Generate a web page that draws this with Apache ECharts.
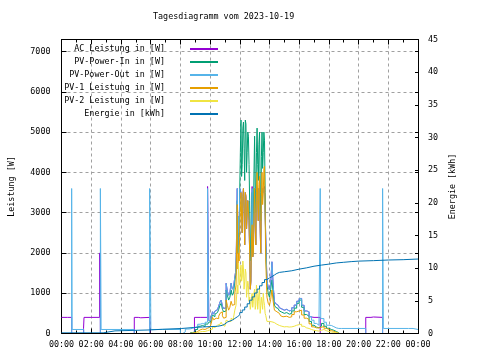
<!DOCTYPE html>
<html>
<head>
<meta charset="utf-8">
<script src="https://cdn.jsdelivr.net/npm/echarts@6/dist/echarts.min.js"></script>
<style>html,body{margin:0;padding:0;background:#fff}#c{width:480px;height:360px}</style>
</head>
<body>
<div id="c"></div>
<script>
// ---------- data (time in minutes of the day) ----------
const seriesNames = ['AC Leistung in [W]','PV-Power-In in [W]','PV-Power-Out in [W]','PV-1 Leistung in [W]','PV-2 Leistung in [W]','Energie in [kWh]'];
const xTickLabels = ['00:00','02:00','04:00','06:00','08:00','10:00','12:00','14:00','16:00','18:00','20:00','22:00','00:00'];

const dayMin = [
 480,490,500,510,520,530,540,550,560,570,580,
 585,590,595,600,605,610,615,620,625,630,635,640,645,650,655,660,665,670,675,680,685,690,695,700,705,
 710,712.5,715,717.5,720,722.5,725,727.5,730,732.5,735,737.5,740,742.5,745,747.5,750,752.5,755,757.5,760,762.5,765,767.5,770,772.5,775,777.5,780,782.5,785,787.5,790,792.5,795,797.5,800,802.5,805,807.5,810,812.5,815,817.5,820,822.5,825,
 830,835,840,845,850,855,860,865,870,875,880,885,890,895,900,
 910,920,930,940,950,960,970,980,990,1000,1010,1020,1030,1040,1050,1060,1070,1080,1090,1100,1110,1120];

const pvIn = [
 null,null,null,null,20,50,100,180,200,170,240,
 230,260,280,300,380,455,420,480,520,505,600,700,750,600,540,560,1080,950,830,900,1080,950,1000,1300,1500,
 3300,2000,2800,2400,3600,4500,5300,3900,4200,5100,5250,4600,3800,5300,5200,4000,4500,5000,4900,4200,3300,1800,2200,3200,3500,2500,2700,4000,4900,3600,3000,4500,5100,4200,3800,4700,5000,3500,2800,4400,5000,4100,4500,5000,4800,3500,2200,
 1200,1000,900,1100,1330,1000,705,650,620,600,560,530,500,500,520,
 480,500,560,630,750,830,650,470,430,300,205,160,140,180,250,180,130,100,80,50,20,0];

const pvOut = [
 0,40,110,115,130,150,170,230,250,230,280,
 280,3600,320,330,420,540,480,560,590,580,680,780,830,680,620,640,1245,1050,950,1000,1250,1100,1150,1400,1600,
 3600,2200,2900,2500,3600,3600,3500,3300,2500,3400,3600,3100,2200,3500,3400,2600,3000,3300,3300,2800,2000,1100,1300,2400,3600,1900,2000,3000,3600,2700,2200,3500,3600,3300,2800,3600,3600,2600,2000,3400,3600,3600,3500,3600,3600,3000,2300,
 1300,1150,1080,1250,1780,1200,790,740,705,680,640,610,580,580,600,
 560,580,640,705,800,870,700,560,540,420,330,250,205,280,370,280,205,200,170,140,125,125];

const pv1 = [
 null,null,null,null,10,20,50,90,110,100,140,
 130,150,160,170,250,400,340,380,380,370,430,500,540,440,380,400,830,700,580,650,800,700,720,1000,1200,
 3200,1600,2000,1800,2600,3000,3500,2900,2500,3400,3600,3100,2200,3500,3400,2600,3000,3300,3300,2800,2000,1100,1300,2400,2700,1900,2000,3000,3600,2700,2200,3500,4000,3300,2800,3700,3900,2600,2000,3400,4000,3200,3500,4100,4150,3000,1800,
 900,750,700,850,1080,800,580,540,530,500,470,440,415,415,430,
 400,415,470,540,560,580,460,380,350,240,165,140,140,150,180,130,100,70,55,30,10,0];

const pv2 = [
 null,null,null,null,null,10,20,40,50,50,70,
 70,80,90,90,110,165,150,190,205,200,230,260,280,220,180,190,330,300,280,300,380,340,400,580,700,
 1200,1000,1750,1300,1200,1500,1700,1300,1400,1800,1600,1100,1300,1600,1500,900,1100,1300,1200,800,900,600,700,900,1000,650,800,1000,1100,600,700,1200,1000,600,800,1000,1100,500,700,900,900,600,1000,800,700,500,450,
 300,300,280,290,290,270,250,230,205,200,190,180,165,165,170,
 160,165,180,205,220,230,180,140,125,100,80,70,60,80,100,70,50,35,25,15,5,0];

const acDay = [
 null,null,null,null,null,null,null,null,null,null,null,
 null,null,320,330,420,540,480,560,590,580,680,780,830,680,620,640,1245,1050,950,1000,1250,1100,1150,1400,1600,
 3600,2200,2900,2500,3600,3600,3500,3300,2500,3400,3600,3100,2200,3500,3400,2600,3000,3300,3300,2800,2000,1100,1300,2400,3650,1900,2000,3000,3600,2700,2200,3500,3600,3300,2800,3600,3600,2600,2000,3400,3600,3600,3500,3600,3650,3000,2380,
 1300,1150,1080,1250,1780,1200,790,740,705,680,640,610,580,580,600,
 560,580,640,705,800,870,700,560,540,420,null,null,null,null,null,null,null,null,null,null,null,null];

// night parts and short spikes: [minute, W]
const acNight = [[0,400],[25,380],[30,400],[41,0],[89,130],[91,400],[120,390],[124,400],[154,2000],[156,1800],[157,0],
 [294,400],[310,390],[320,400],[357,0],[537,400],[560,390],[565,400],[590,3650],
 [1005,400],[1020,390],[1025,400],[1045,0],[1229,400],[1250,410],[1260,400],[1297,0],[1440,0]];
const pvOutNight = [[0,0],[41,3600],[43,100],[90,0],[157,3600],[160,100],[294,0],[356,3600],[359,1840],[361,100],
 [1045,3600],[1047,370],
 [1130,125],[1229,0],[1297,3600],[1300,125],[1402,100],[1410,125],[1420,100],[1440,100]];

const energyMin = [0,168,216,360,408,486,534,570,600,630,650,660,670,680,690,700,710,720,730,740,750,760,770,780,790,800,810,820,830,840,850,860,870,880,900,930,960,990,1020,1050,1080,1110,1140,1170,1200,1260,1320,1380,1440];
const energyKWh = [0.1,0.4,0.55,0.65,0.77,0.92,1.0,1.05,1.1,1.25,1.45,1.75,1.9,2.05,2.3,2.55,2.85,3.2,3.6,4.05,4.55,5.1,5.6,6.2,6.8,7.3,7.8,8.25,8.5,8.7,8.95,9.2,9.35,9.45,9.6,9.85,10.05,10.3,10.47,10.62,10.8,10.9,11.0,11.08,11.15,11.25,11.3,11.4,11.5];

// ---------- build ----------
function pairs(times, vals){ const out=[]; for(let i=0;i<times.length;i++){ if(vals[i]!=null) out.push([times[i], vals[i]]); } return out; }
function merged(a, b){ return a.concat(b).sort((p,q)=>p[0]-q[0]); }

const FONT = "'DejaVu Sans Mono', monospace";
const FS = 8.4;
const colors = ['#9400d3','#009e73','#56b4e9','#e69f00','#f0e442','#0072b2'];
const dataSets = [
  merged(acNight, pairs(dayMin, acDay)),
  pairs(dayMin, pvIn),
  merged(pvOutNight, pairs(dayMin, pvOut)),
  pairs(dayMin, pv1),
  pairs(dayMin, pv2),
  pairs(energyMin, energyKWh)
];

const chart = echarts.init(document.getElementById('c'), null, {renderer:'canvas'});
const gridLine = {show:true, showMinLine:false, showMaxLine:false, lineStyle:{color:'#a0a0a0', width:1, type:[3,3]}};
const black = {color:'#000', width:1};

const option = {
  animation:false,
  backgroundColor:'#fff',
  textStyle:{fontFamily:FONT, fontSize:FS, color:'#000'},
  title:{text:'Tagesdiagramm vom 2023-10-19', left:153, top:13, padding:0,
    textStyle:{fontFamily:FONT, fontSize:FS, fontWeight:'normal', color:'#000'}},
  grid:{left:58, top:39.5, width:360, height:294},
  legend: seriesNames.map((n,i)=>({
    data:[n], orient:'vertical', align:'right', right:262, top:43 + 13*i, padding:0,
    icon:'rect', itemWidth:28, itemHeight:2, selectedMode:false,
    textStyle:{fontFamily:FONT, fontSize:FS, color:'#000', lineHeight:8, padding:[0,20,4,0]}
  })),
  xAxis:[
    {type:'value', min:0, max:1440, interval:120, position:'bottom',
     axisLine:{show:true, onZero:false, lineStyle:black},
     axisTick:{show:true, inside:true, length:5, lineStyle:black},
     minorTick:{show:true, splitNumber:2, length:3, lineStyle:black},
     axisLabel:{margin:7, fontFamily:FONT, fontSize:FS, color:'#000', formatter:v=>xTickLabels[Math.round(v/120)]},
     splitLine:gridLine},
    {type:'value', min:0, max:1440, interval:120, position:'top',
     axisLine:{show:true, onZero:false, lineStyle:black},
     axisTick:{show:true, inside:true, length:5, lineStyle:black},
     minorTick:{show:true, splitNumber:2, length:3, lineStyle:black},
     axisLabel:{show:false}, splitLine:{show:false}},
    {type:'value', min:0, max:1440, position:'bottom', z:10,
     axisLine:{show:true, onZero:false, lineStyle:black},
     axisTick:{show:false}, axisLabel:{show:false}, splitLine:{show:false}}
  ],
  yAxis:[
    {type:'value', min:0, max:7300, interval:1000, position:'left',
     name:'Leistung [W]', nameLocation:'middle', nameGap:45.5, nameRotate:90,
     nameTextStyle:{fontFamily:FONT, fontSize:FS, color:'#000'},
     axisLine:{show:true, onZero:false, lineStyle:black},
     axisTick:{show:true, inside:true, length:5, lineStyle:black},
     axisLabel:{margin:11, fontFamily:FONT, fontSize:FS, color:'#000', formatter:v=>(v%1000===0?String(v):''), showMaxLabel:false},
     splitLine:gridLine},
    {type:'value', min:0, max:45, interval:5, position:'right',
     name:'Energie [kWh]', nameLocation:'middle', nameGap:29, nameRotate:90,
     nameTextStyle:{fontFamily:FONT, fontSize:FS, color:'#000'},
     axisLine:{show:true, onZero:false, lineStyle:black},
     axisTick:{show:true, inside:true, length:3, lineStyle:black},
     axisLabel:{margin:10, fontFamily:FONT, fontSize:FS, color:'#000'},
     splitLine:{show:false}},
    {type:'value', min:0, max:7300, interval:1000, position:'right',
     axisLine:{show:false, onZero:false},
     axisTick:{show:true, inside:true, length:3, lineStyle:black},
     axisLabel:{show:false}, splitLine:{show:false}}
  ],
  series: seriesNames.map((n,i)=>({
    name:n, type:'line', step:'end', symbol:'none', showSymbol:false,
    xAxisIndex:0, yAxisIndex: i===5 ? 1 : 0,
    lineStyle:{width:1, color:colors[i]}, itemStyle:{color:colors[i]},
    emphasis:{disabled:true}, silent:true,
    data:dataSets[i]
  }))
};
chart.setOption(option);
</script>
</body>
</html>
